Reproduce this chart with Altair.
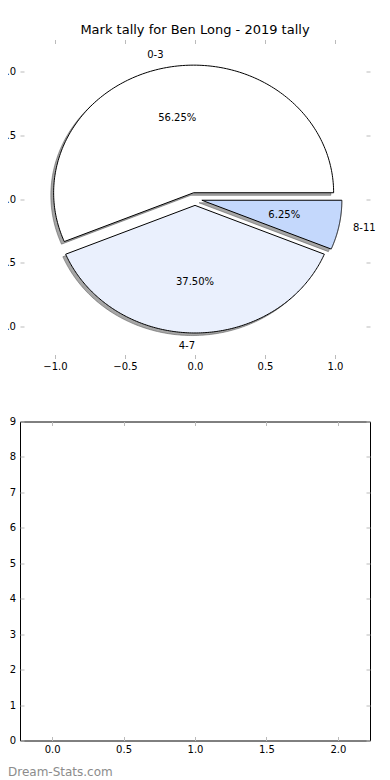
import altair as alt
import pandas as pd

TITLE = "Mark tally for Ben Long - 2019 tally"
WATERMARK = "Dream-Stats.com"

categories = ["0-3", "4-7", "8-11"]
counts = [9, 6, 1]
explode = [0.05, 0.05, 0.05]
slice_colors = ["#ffffff", "#eaf0fd", "#c4d8fc"]

pie_ticks = [-1.0, -0.5, 0.0, 0.5, 1.0]
bar_x_ticks = [0.0, 0.5, 1.0, 1.5, 2.0]
bar_y_ticks = [0, 1, 2, 3, 4, 5, 6, 7, 8, 9]

N = 180
FONT = "DejaVu Sans"
TICK_GRAY = "#bbbbbb"
SHADOW = "#4d4d4d"

pie_df = pd.DataFrame({
    "cat": categories,
    "count": counts,
    "explode": explode,
    "idx": list(range(len(categories))),
})


def axis(orient, values, fmt, labels=True, pad=4.5):
    kw = dict(orient=orient, values=values, domain=False, grid=False, ticks=True,
              tickSize=4, tickColor=TICK_GRAY, tickWidth=1, offset=-4, title=None,
              labels=labels, labelFlush=False, labelOverlap=False)
    if labels:
        kw.update(format=fmt, labelFont=FONT, labelFontSize=10, labelColor="black",
                  labelPadding=pad)
    return alt.Axis(**kw)


pie_x = alt.Scale(domain=[-1.25, 1.25], nice=False, zero=False)
pie_y = alt.Scale(domain=[-1.25, 1.25], nice=False, zero=False)

base = (
    alt.Chart(pie_df)
    .transform_joinaggregate(total="sum(count)")
    .transform_window(cum="sum(count)", sort=[alt.SortField("idx")], frame=[None, 0])
    .transform_calculate(t1="(datum.cum - datum.count) / datum.total")
    .transform_calculate(t2="datum.cum / datum.total")
    .transform_calculate(mid="PI * (datum.t1 + datum.t2)")
    .transform_calculate(cx="datum.explode * cos(datum.mid)")
    .transform_calculate(cy="datum.explode * sin(datum.mid)")
)

pts = (
    base.transform_calculate(steps=f"sequence(0, {N + 3})")
    .transform_flatten(["steps"], as_=["k"])
    .transform_calculate(rr=f"(datum.k == 0 || datum.k == {N + 2}) ? 0 : 1")
    .transform_calculate(ang=f"2 * PI * (datum.t1 + (datum.t2 - datum.t1) * (datum.k - 1) / {N})")
    .transform_calculate(px="datum.cx + datum.rr * cos(datum.ang)")
    .transform_calculate(py="datum.cy + datum.rr * sin(datum.ang)")
    .transform_calculate(sx="datum.px - 0.02")
    .transform_calculate(sy="datum.py - 0.02")
)

shadows = pts.mark_line(
    filled=True, color=SHADOW, fill=SHADOW, fillOpacity=0.5,
    stroke=SHADOW, strokeOpacity=0.5, strokeWidth=1,
).encode(
    x=alt.X("sx:Q", scale=pie_x, axis=axis("top", pie_ticks, ".1f", labels=False)),
    y=alt.Y("sy:Q", scale=pie_y, axis=axis("right", pie_ticks, ".1f", labels=False)),
    detail="cat:N",
    order="k:Q",
)

wedges = pts.mark_line(filled=True, stroke="black", strokeWidth=1, fillOpacity=1).encode(
    x=alt.X("px:Q", scale=pie_x, axis=axis("bottom", pie_ticks, ".1f", pad=3)),
    y=alt.Y("py:Q", scale=pie_y, axis=axis("left", pie_ticks, ".1f", pad=4.5)),
    color=alt.Color("cat:N", scale=alt.Scale(domain=categories, range=slice_colors), legend=None),
    order="k:Q",
)

labels = (
    base.transform_calculate(lx="datum.cx + 1.1 * cos(datum.mid)")
    .transform_calculate(ly="datum.cy + 1.1 * sin(datum.mid)")
)

lab_left = labels.transform_filter("datum.lx > 0").mark_text(
    align="left", baseline="middle", font=FONT, fontSize=10, color="black"
).encode(
    x=alt.X("lx:Q", scale=pie_x, axis=None),
    y=alt.Y("ly:Q", scale=pie_y, axis=None),
    text="cat:N",
)

lab_right = labels.transform_filter("datum.lx <= 0").mark_text(
    align="right", baseline="middle", font=FONT, fontSize=10, color="black"
).encode(
    x=alt.X("lx:Q", scale=pie_x, axis=None),
    y=alt.Y("ly:Q", scale=pie_y, axis=None),
    text="cat:N",
)

pct = (
    base.transform_calculate(qx="datum.cx + 0.6 * cos(datum.mid)")
    .transform_calculate(qy="datum.cy + 0.6 * sin(datum.mid)")
    .transform_calculate(pct="format(datum.count / datum.total * 100, '.2f') + '%'")
    .mark_text(align="center", baseline="middle", font=FONT, fontSize=10, color="black")
    .encode(
        x=alt.X("qx:Q", scale=pie_x, axis=None),
        y=alt.Y("qy:Q", scale=pie_y, axis=None),
        text="pct:N",
    )
)

top = (
    alt.layer(shadows, wedges, lab_left, lab_right, pct)
    .resolve_axis(x="independent", y="independent")
    .properties(
        width=350,
        height=319,
        title=alt.TitleParams(
            TITLE, font=FONT, fontSize=13, fontWeight="normal", color="black",
            anchor="middle", frame="group", baseline="alphabetic", offset=-7.5,
        ),
    )
)

bar_df = pd.DataFrame({"x": bar_x_ticks * 2, "y": bar_y_ticks})
bx = alt.Scale(domain=[-0.225, 2.225], nice=False, zero=False)
by = alt.Scale(domain=[0, 9], nice=False, zero=False)

b1 = alt.Chart(bar_df).mark_point(opacity=0).encode(
    x=alt.X("x:Q", scale=bx, axis=axis("bottom", bar_x_ticks, ".1f", pad=3.5)),
    y=alt.Y("y:Q", scale=by, axis=axis("left", bar_y_ticks, "d", pad=4.5)),
)
b2 = alt.Chart(bar_df).mark_point(opacity=0).encode(
    x=alt.X("x:Q", scale=bx, axis=axis("top", bar_x_ticks, ".1f", labels=False)),
    y=alt.Y("y:Q", scale=by, axis=axis("right", bar_y_ticks, "d", labels=False)),
)

bottom = (
    alt.layer(b1, b2)
    .resolve_axis(x="independent", y="independent")
    .properties(
        width=350,
        height=319,
        view=alt.ViewBackground(stroke="black", strokeWidth=1),
        title=alt.TitleParams(
            WATERMARK, orient="bottom", anchor="start", frame="group",
            baseline="alphabetic", offset=22, dx=-12, font=FONT, fontSize=12,
            fontWeight="normal", color="#8c8c8c",
        ),
    )
)

chart = (
    alt.vconcat(top, bottom, spacing=63, bounds="flush")
    .properties(padding={"left": -17, "top": 15.5, "right": 2, "bottom": 0})
    .configure_view(strokeWidth=0)
)

chart.save("out.html", embed_options={"renderer": "svg", "actions": False})
